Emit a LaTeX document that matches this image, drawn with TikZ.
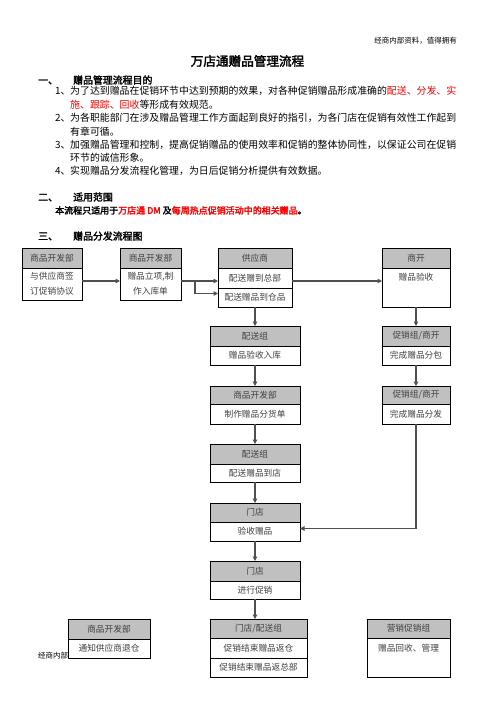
\documentclass[tikz,border=0pt]{standalone}
\usepackage{fontspec}
\setmainfont{Noto Sans CJK SC}[AutoFakeBold=2.5]
\usetikzlibrary{arrows.meta}
\definecolor{hdrgray}{HTML}{C0C0C0}
\definecolor{boxtxt}{HTML}{404040}
\definecolor{arrgray}{HTML}{505050}
\definecolor{myred}{HTML}{FF0000}
\begin{document}
\begin{tikzpicture}[x=1pt,y=-1pt,
  hdr/.style={draw=black, fill=hdrgray, line width=0.9pt, text=boxtxt, inner sep=0pt, outer sep=0pt,
    font=\fontsize{8.7}{10}\selectfont, anchor=north west, align=center},
  bdy/.style={draw=black, fill=white, line width=0.9pt, text=boxtxt, inner sep=0pt, outer sep=0pt,
    font=\fontsize{8.7}{15}\selectfont, anchor=north west, align=center},
  btxt/.style={text=boxtxt, inner sep=0pt, font=\fontsize{8.7}{10}\selectfont},
  arr/.style={draw=arrgray, line width=1.3pt, -{Triangle[length=4.5pt,width=4.5pt]}},
  ln/.style={draw=arrgray, line width=1.3pt},
  body/.style={inner sep=0pt, anchor=base west, font=\fontsize{9.9}{12}\selectfont},
  head/.style={inner sep=0pt, anchor=base west, font=\fontsize{9.9}{12}\selectfont\bfseries}
]
\useasboundingbox (0,0) rectangle (496,702);

% page texts
\node[inner sep=0pt, anchor=base east, font=\fontsize{7.5}{9}\selectfont] (top) at (457,43.8) {经商内部资料，值得拥有};
\node[inner sep=0pt, anchor=base, font=\fontsize{12.6}{14}\selectfont\bfseries] (title) at (247.5,65.8) {万店通赠品管理流程};

\node[head] (s1n) at (38,83.8) {一、};
\node[head] (s1t) at (73,83.8) {赠品管理流程目的};
\node[body] (i1n) at (55,94.8) {1、};
\node[body] (i1a) at (70,94.8) {为了达到赠品在促销环节中达到预期的效果，对各种促销赠品形成准确的\textcolor{myred}{配送、分发、实}};
\node[body] (i1b) at (70,108.8) {\textcolor{myred}{施、跟踪、回收}等形成有效规范。};
\node[body] (i2n) at (55,121.8) {2、};
\node[body] (i2a) at (70,121.8) {为各职能部门在涉及赠品管理工作方面起到良好的指引，为各门店在促销有效性工作起到};
\node[body] (i2b) at (70,135.8) {有章可循。};
\node[body] (i3n) at (55,148.8) {3、};
\node[body] (i3a) at (70,148.8) {加强赠品管理和控制，提高促销赠品的使用效率和促销的整体协同性，以保证公司在促销};
\node[body] (i3b) at (70,161.8) {环节的诚信形象。};
\node[body] (i4n) at (55,174.8) {4、};
\node[body] (i4a) at (70,174.8) {实现赠品分发流程化管理，为日后促销分析提供有效数据。};

\node[head] (s2n) at (38,200.8) {二、};
\node[head] (s2t) at (73,200.8) {适用范围};
\node[inner sep=0pt, anchor=base west, font=\fontsize{9}{11}\selectfont\bfseries] (s2b) at (55,213.8)
  {本流程只适用于\textcolor{myred}{万店通 DM} 及\textcolor{myred}{每周热点促销活动中的相关赠品}。};

\node[head] (s3n) at (38,239.8) {三、};
\node[head] (s3t) at (73,239.8) {赠品分发流程图};

% row 1
\node[hdr, minimum width=60pt, minimum height=20pt] (aH) at (22,248) {商品开发部};
\node[bdy, minimum width=60pt, minimum height=32pt] (aB) at (aH.south west) {与供应商签\\订促销协议};
\node[hdr, minimum width=61pt, minimum height=20pt] (bH) at (120,248) {商品开发部};
\node[bdy, minimum width=61pt, minimum height=32pt] (bB) at (bH.south west) {赠品立项,制\\作入库单};
\node[hdr, minimum width=74pt, minimum height=20pt] (cH) at (218,248) {供应商};
\node[bdy, minimum width=74pt, minimum height=20pt] (c1) at (cH.south west) {配送赠到总部};
\node[bdy, minimum width=74pt, minimum height=19pt] (c2) at (c1.south west) {配送赠品到仓品};
\node[hdr, minimum width=68pt, minimum height=20pt] (dH) at (382,248) {商开};
\node[bdy, minimum width=68pt, minimum height=39pt] (dB) at (dH.south west) {};
\node[btxt] (dT) at (416,277) {赠品验收};

% row 2
\node[hdr, minimum width=90pt, minimum height=20pt] (eH) at (210,326) {配送组};
\node[bdy, minimum width=90pt, minimum height=19pt] (eB) at (eH.south west) {赠品验收入库};
\node[hdr, minimum width=68pt, minimum height=20pt] (pH) at (382,326) {促销组/商开};
\node[bdy, minimum width=68pt, minimum height=19pt] (pB) at (pH.south west) {完成赠品分包};

% row 3
\node[hdr, minimum width=90pt, minimum height=18pt] (fH) at (210,386) {商品开发部};
\node[bdy, minimum width=90pt, minimum height=20pt] (fB) at (fH.south west) {制作赠品分货单};
\node[hdr, minimum width=68pt, minimum height=18pt] (qH) at (382,386) {促销组/商开};
\node[bdy, minimum width=68pt, minimum height=20pt] (qB) at (qH.south west) {完成赠品分发};

% row 4-6
\node[hdr, minimum width=90pt, minimum height=20pt] (gH) at (210,444) {配送组};
\node[bdy, minimum width=90pt, minimum height=18pt] (gB) at (gH.south west) {配送赠品到店};
\node[hdr, minimum width=90pt, minimum height=19pt] (hH) at (210,503) {门店};
\node[bdy, minimum width=90pt, minimum height=19pt] (hB) at (hH.south west) {验收赠品};
\node[hdr, minimum width=90pt, minimum height=20pt] (iH) at (210,561) {门店};
\node[bdy, minimum width=90pt, minimum height=18pt] (iB) at (iH.south west) {进行促销};

% row 7
\node[inner sep=0pt, anchor=west, font=\fontsize{7.5}{9}\selectfont] (foot) at (38,656) {经商内部};
\node[hdr, minimum width=82pt, minimum height=20pt] (kH) at (68,619) {商品开发部};
\node[bdy, minimum width=82pt, minimum height=19pt] (kB) at (kH.south west) {通知供应商退仓};
\node[hdr, minimum width=97pt, minimum height=19pt] (jH) at (210,619) {门店/配送组};
\node[bdy, minimum width=97pt, minimum height=20pt] (j1) at (jH.south west) {促销结束赠品返仓};
\node[bdy, minimum width=97pt, minimum height=19pt] (j2) at (j1.south west) {促销结束赠品返总部};
\node[hdr, minimum width=83pt, minimum height=19pt] (mH) at (367,619) {营销促销组};
\node[bdy, minimum width=83pt, minimum height=39pt] (mB) at (mH.south west) {};
\node[btxt] (mT) at (408.5,648) {赠品回收、管理};

% connectors
\draw[arr] ([yshift=3pt]aB.east) -- ([yshift=3pt]aB.east -| bB.west);
\coordinate (br) at (195,281);
\draw[arr] ([yshift=3pt]bB.east) -- ([yshift=3pt]bB.east -| c1.west);
\draw[arr] (br) |- ([yshift=4pt]c2.west);
\draw[arr] ([yshift=-3pt]c1.east) -- ([yshift=-3pt]c1.east -| dB.west);
\draw[arr] (c2.south) -- (c2.south |- eH.north);
\draw[arr] (dB.south) -- (dB.south |- pH.north);
\draw[arr] (eB.south) -- (fH.north);
\draw[arr] (pB.south) -- (qH.north);
\draw[arr] (fB.south) -- (gH.north);
\draw[arr] (gB.south) -- (hH.north);
\draw[arr] (qB.south) |- ([yshift=3pt]hB.east);
\draw[arr] (hB.south) -- (iH.north);
\draw[arr] (iB.south) -- (iB.south |- jH.north);
\end{tikzpicture}
\end{document}
